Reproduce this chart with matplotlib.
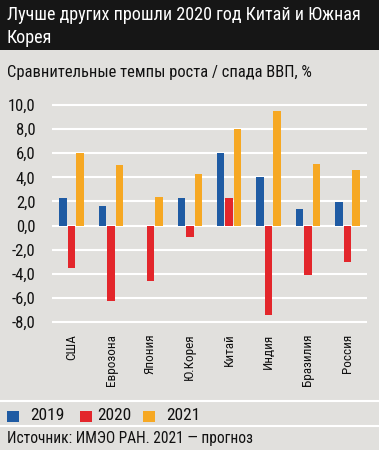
import matplotlib
matplotlib.use("Agg")
import matplotlib.pyplot as plt
from matplotlib.patches import Rectangle
import numpy as np

categories = ["США", "Еврозона", "Япония", "Ю.Корея", "Китай", "Индия", "Бразилия", "Россия"]
v2019 = [2.3, 1.65, 0.0, 2.3, 6.0, 4.0, 1.35, 1.95]
v2020 = [-3.5, -6.3, -4.6, -0.95, 2.3, -7.4, -4.1, -3.0]
v2021 = [6.05, 5.0, 2.4, 4.3, 8.0, 9.5, 5.1, 4.65]
series_names = ["2019", "2020", "2021"]
colors = ["#1f5ba3", "#e3262b", "#f6a823"]
yticks = [-8, -6, -4, -2, 0, 2, 4, 6, 8, 10]

FONT = "Roboto Condensed"
plt.rcParams["font.family"] = [FONT, "DejaVu Sans"]

BG = "#e1e0dd"
W, H = 379, 450
fig = plt.figure(figsize=(3.79, 4.5), dpi=100, facecolor=BG)
renderer = fig.canvas.get_renderer()


def fit_text(xpx, ypx, s, target_w, size, **kw):
    t = fig.text(xpx / W, 1 - ypx / H, s, fontsize=size, **kw)
    bb = t.get_window_extent(renderer=renderer)
    t.set_fontsize(size * target_w / bb.width)
    return t


# title band
fig.patches.append(Rectangle((0, 1 - 50 / H), 1, 50 / H, transform=fig.transFigure,
                             facecolor="#161616", edgecolor="none", zorder=0))
t1 = fit_text(7, 15, "Лучше других прошли 2020 год Китай и Южная", 355, 15,
              color="white", va="center", ha="left")
fig.text(7 / W, 1 - 38 / H, "Корея", fontsize=t1.get_fontsize(), color="white",
         va="center", ha="left")
fit_text(7, 72, "Сравнительные темпы роста / спада ВВП, %", 303, 12,
         color="#111111", va="center", ha="left")

ax = fig.add_axes([52 / W, (H - 326.8) / H, 315 / W, 226.6 / H])
ax.set_facecolor(BG)
x = np.arange(len(categories))
off = 0.216
w = 0.19
for i, (vals, c) in enumerate(zip([v2019, v2020, v2021], colors)):
    ax.bar(x + (i - 1) * off, vals, width=w, color=c, zorder=3)
ax.set_xlim(-0.5, len(categories) - 0.5)
ax.set_ylim(-8.4, 10.4)
ax.set_yticks(yticks)
ax.set_yticklabels([f"{t:.1f}".replace(".", ",") for t in yticks], fontsize=12, color="#111111")
ax.yaxis.grid(True, color="white", linewidth=1.5, zorder=1)
ax.set_axisbelow(True)
for s in ax.spines.values():
    s.set_visible(False)
ax.tick_params(axis="y", length=0, pad=12)
ax.tick_params(axis="x", length=0, pad=5)
ax.set_xticks(x)
ax.set_xticklabels(categories, rotation=90, fontsize=9.5, va="top", color="#111111")

# separators
for yy in [401, 426]:
    fig.add_artist(plt.Line2D([0, 1], [1 - yy / H] * 2, transform=fig.transFigure,
                              color="white", linewidth=1.5))
# legend
sq_x = [7, 80, 143]
tx_x = [30, 97, 166]
for sx, tx, name, c in zip(sq_x, tx_x, series_names, colors):
    fig.patches.append(Rectangle((sx / W, 1 - 422 / H), 12 / W, 11 / H,
                                 transform=fig.transFigure, facecolor=c, edgecolor="none"))
    fig.text(tx / W, 1 - 416 / H, name, fontsize=12.5, va="center", ha="left",
             color="#111111")
fit_text(7, 439, "Источник: ИМЭО РАН. 2021 — прогноз", 248, 11,
         va="center", ha="left", color="#111111")

fig.savefig("out.png", dpi=100, facecolor=BG)
